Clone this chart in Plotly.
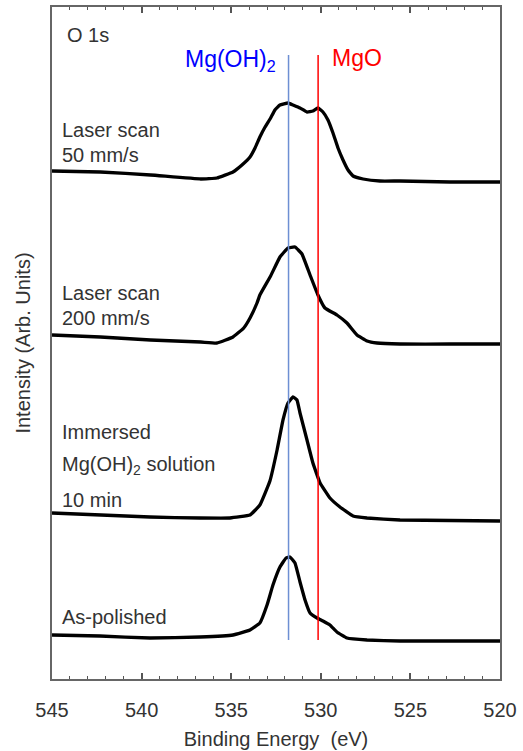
import plotly.graph_objects as go

# Binding energies (eV) and intensities (arb. units, stacked offsets as in the figure)
e1 = [545.0, 542.3, 539.5, 536.7, 535.8, 534.9, 534.4, 533.95, 533.67, 533.4, 533.11,
      532.8, 532.56, 532.28, 531.83, 531.55, 531.16, 530.77, 530.44, 530.16, 529.88,
      529.6, 529.32, 529.04, 528.76, 528.48, 528.2, 527.64, 526.7, 525.58, 522.79, 520.0]
i1 = [508, 507, 504, 500, 501, 507, 514, 522, 531, 542, 552,
      561, 569, 574, 576, 574, 571, 567, 568, 571, 567,
      559, 546, 531, 519, 509, 503, 500, 498, 498, 497, 497]

e2 = [545.0, 542.3, 539.5, 536.7, 535.8, 534.9, 534.3, 533.95, 533.56, 533.4, 532.8,
      532.28, 531.83, 531.44, 531.05, 530.6, 530.16, 529.77, 529.1, 528.54, 527.98,
      527.42, 526.86, 525.58, 522.79, 520.0]
i2 = [344, 342, 339, 337, 336, 342, 351, 361, 376, 384, 403,
      422, 431, 432, 425, 404, 384, 371, 364, 356, 344,
      338, 336, 335, 335, 335]

e3 = [545.0, 539.53, 536.74, 535.07, 533.95, 533.4, 532.84, 532.44, 532.11, 531.83, 531.55,
      531.33, 531.16, 530.77, 530.44, 530.04, 529.49, 528.93, 528.2, 527.42, 525.58, 520.0]
i3 = [166, 162, 161, 161, 164, 174, 198, 229, 259, 276, 282,
      279, 266, 239, 216, 196, 181, 172, 163, 161, 159, 158]

e4 = [545.0, 542.32, 539.53, 536.74, 534.9, 533.95, 533.4, 533.0, 532.67, 532.28, 531.94,
      531.72, 531.44, 531.16, 530.88, 530.6, 530.21, 529.88, 529.49, 529.1, 528.54,
      527.42, 525.58, 520.0]
i4 = [44, 43, 41, 42, 44, 49, 56, 74, 94, 112, 121,
      122, 116, 97, 79, 66, 61, 58, 54, 47, 41,
      39, 38, 38]

ref_names = ["Mg(OH)<sub>2</sub>", "MgO"]
ref_energy = [531.8, 530.15]
ref_span = [39, 624]
x_ticks = [545, 540, 535, 530, 525, 520]

TXT = "#333333"
FONT = "Liberation Sans, Arial, sans-serif"

fig = go.Figure()
for e, i in [(e1, i1), (e2, i2), (e3, i3), (e4, i4)]:
    fig.add_trace(go.Scatter(x=e, y=i, mode="lines",
                             line=dict(color="black", width=3.3, shape="spline", smoothing=0.3),
                             showlegend=False, hoverinfo="skip"))

line_colors = ["#6d8fd3", "#ff0000"]
for en, col in zip(ref_energy, line_colors):
    fig.add_trace(go.Scatter(x=[en, en], y=ref_span, mode="lines",
                             line=dict(color=col, width=1.5), showlegend=False, hoverinfo="skip"))

S = 20
ann = [
    dict(text="O 1s", x=0.029, y=0.958, xanchor="left", color=TXT, size=S),
    dict(text="Laser scan", x=0.018, y=0.817, xanchor="left", color=TXT, size=S),
    dict(text="50 mm/s", x=0.018, y=0.780, xanchor="left", color=TXT, size=S),
    dict(text="Laser scan", x=0.018, y=0.574, xanchor="left", color=TXT, size=S),
    dict(text="200 mm/s", x=0.018, y=0.537, xanchor="left", color=TXT, size=S),
    dict(text="Immersed", x=0.018, y=0.368, xanchor="left", color=TXT, size=S),
    dict(text="Mg(OH)<sub>2</sub> solution", x=0.018, y=0.318, xanchor="left", color=TXT, size=S),
    dict(text="10 min", x=0.018, y=0.266, xanchor="left", color=TXT, size=S),
    dict(text="As-polished", x=0.018, y=0.092, xanchor="left", color=TXT, size=S),
    dict(text=ref_names[0], x=0.504, y=0.920, xanchor="right", color="#0000ff", size=23),
    dict(text=ref_names[1], x=0.620, y=0.924, xanchor="left", color="#ff0000", size=23),
]
for a in ann:
    fig.add_annotation(text=a["text"], x=a["x"], y=a["y"], xref="paper", yref="paper",
                       xanchor=a["xanchor"], yanchor="middle", showarrow=False,
                       font=dict(family=FONT, size=a["size"], color=a["color"]))

fig.update_layout(
    width=523, height=751,
    margin=dict(l=52, r=23, t=7, b=72, autoexpand=False),
    paper_bgcolor="white", plot_bgcolor="white",
    font=dict(family=FONT, color=TXT),
    xaxis=dict(range=[545, 520], tickvals=x_ticks, ticks="inside", ticklen=6, tickwidth=1.5,
               tickcolor="#555", showline=True, linecolor="#666", linewidth=1.5, mirror="ticks",
               showgrid=False, zeroline=False, ticklabelstandoff=12, automargin=False,
               minor=dict(dtick=1, ticks="inside", ticklen=3, tickwidth=1.2, tickcolor="#555"),
               tickfont=dict(size=20, color=TXT),
               title=dict(text="Binding Energy  (eV)", font=dict(size=20, color=TXT), standoff=12)),
    yaxis=dict(range=[0, 672], showticklabels=False, ticks="", showline=True, linecolor="#666",
               linewidth=1.5, mirror=True, showgrid=False, zeroline=False, automargin=False,
               title=dict(text="Intensity (Arb. Units)", font=dict(size=20, color=TXT), standoff=14)),
)

fig.write_html("out.html")
